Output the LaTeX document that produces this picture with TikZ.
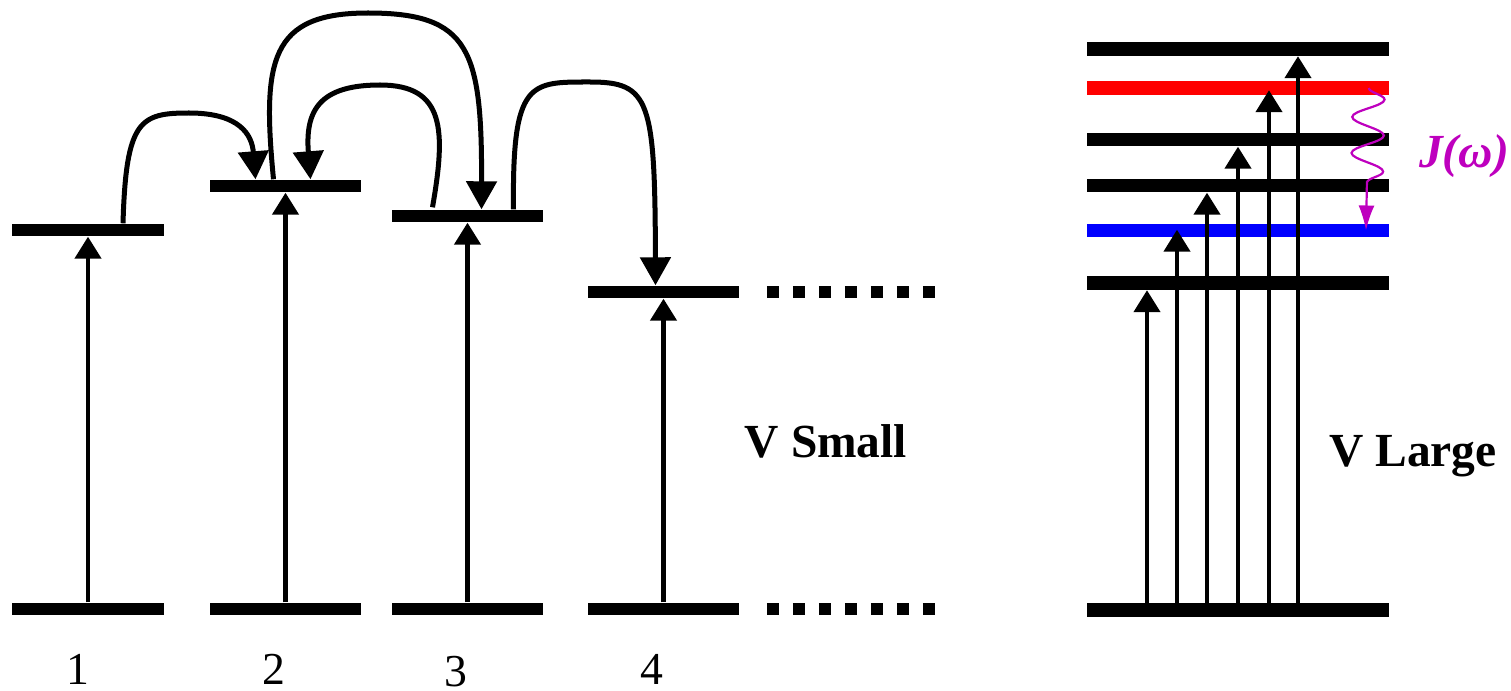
\documentclass[tikz,border=0pt]{standalone}
\usepackage{fontspec}
\setmainfont{Liberation Serif}
\usetikzlibrary{arrows.meta,positioning,calc,decorations.pathmorphing}
\definecolor{jmag}{RGB}{190,0,190}

\begin{document}
\begin{tikzpicture}[x=0.01cm, y=-0.01cm,
            lev/.style={fill=black, rectangle, inner sep=0pt, minimum width=1.51cm, minimum height=0.12cm},
            rlev/.style={lev, minimum width=3.02cm, minimum height=0.13cm},
            dots/.style={line width=0.12cm, dash pattern=on 0.12cm off 0.14cm},
            uparrow/.style={line width=0.045cm, -{Triangle[length=0.22cm, width=0.26cm]}},
            hop/.style={line width=0.05cm, -{Triangle[length=0.28cm, width=0.3cm]}},
            jwave/.style={jmag, line width=0.022cm, decorate,
                decoration={snake, amplitude=0.16cm, segment length=0.36cm, post length=0.3cm},
                -{Latex[length=0.25cm, width=0.16cm]}},
            lbl/.style={anchor=base, font=\fontsize{13}{15}\selectfont},
            vlbl/.style={anchor=base, font=\fontsize{13.5}{16}\selectfont\bfseries}]
        \useasboundingbox (0,0) rectangle (1511,691);

        \node[lev] (u1) at (88,230) {};
        \node[lev] (u2) at (285.5,186) {};
        \node[lev] (u3) at (467.5,216) {};
        \node[lev] (u4) at (663.5,292) {};
        \foreach \i/\x in {1/88, 2/285.5, 3/467.5, 4/663.5}
            \node[lev] (b\i) at (\x,609) {};
        \draw[dots] ($(u4.east)+(27,0)$) -- ++(168,0);
        \draw[dots] ($(b4.east)+(27,0)$) -- ++(168,0);

        \foreach \i in {1,...,4}
            \draw[uparrow] (b\i.north) -- (u\i.south);

        \draw[hop] ($(u1.north)+(35,0)$) .. controls (126,120) and (140,113) .. (189,113)
            .. controls (240,113) and (252,135) .. ($(u2.north)+(-30,0)$);
        \draw[hop] ($(u2.north)+(-12,0)$) .. controls (262,60) and (270,13) .. (368,13)
            .. controls (470,13) and (482,50) .. ($(u3.north)+(14,0)$);
        \draw[hop] ($(u3.north)+(-35,-2)$) .. controls (446,130) and (445,85) .. (380,85)
            .. controls (320,85) and (305,110) .. ($(u2.north)+(25,0)$);
        \draw[hop] ($(u3.north)+(46,0)$) .. controls (512,80) and (530,82) .. (590,82)
            .. controls (650,82) and (655,100) .. ($(u4.north)+(-8,0)$);

        \node[lbl] (n1) at (78,684) {1};
        \node[lbl] (n2) at (274,684) {2};
        \node[lbl] (n3) at (456,686) {3};
        \node[lbl] (n4) at (652,684) {4};
        \node[vlbl] (vs) at (826,458) {V Small};

        \node[rlev] (r0) at (1238,610) {};
        \node[rlev] (r1) at (1238,283) {};
        \node[rlev, fill=blue] (r2) at (1238,230.5) {};
        \node[rlev] (r3) at (1238,185.5) {};
        \node[rlev] (r4) at (1238,139.5) {};
        \node[rlev, fill=red] (r5) at (1238,88) {};
        \node[rlev] (r6) at (1238,49) {};

        \foreach \dx/\k/\dy in {-91/1/0, -61/2/-8, -31/3/0, 0/4/0, 31/5/-5, 60/6/0}
            \draw[uparrow] ($(r0.north)+(\dx,0)$) -- ($(r\k.south)+(\dx,\dy)$);

        \draw[jwave] ($(r5.east)+(-21,0)$) -- ($(r2.center)+(128,0)$);
        \node[vlbl, text=jmag] (jw) at (1464,168) {\itshape J(ω)};
        \node[vlbl] (vl) at (1413,467) {V Large};
\end{tikzpicture}
\end{document}
